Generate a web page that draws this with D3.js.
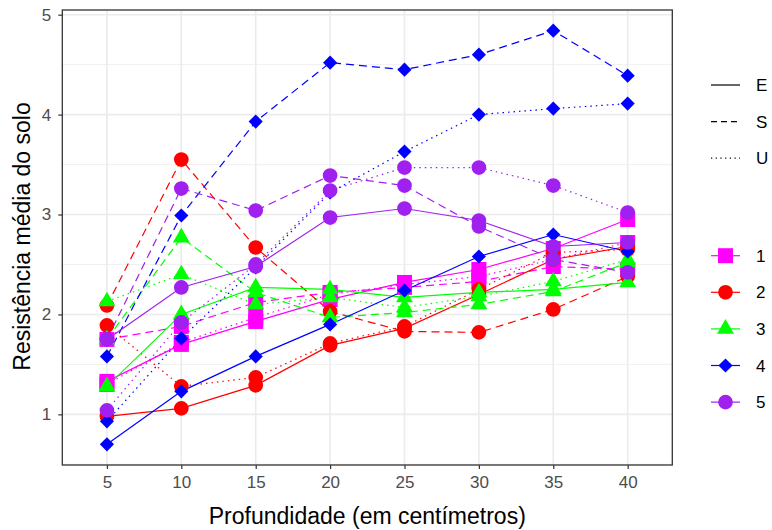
<!DOCTYPE html>
<html>
<head>
<meta charset="utf-8">
<script src="https://cdn.jsdelivr.net/npm/d3@7"></script>
<style>
  body { margin: 0; background: #fff; }
  text { font-family: "Liberation Sans", Arial, sans-serif; }
</style>
</head>
<body>
<div class="chart"></div>
<script>
// profundidade (cm)
let depths = [5, 10, 15, 20, 25, 30, 35, 40]
let groups = ["1", "2", "3", "4", "5"]
let types = ["E", "S", "U"]

// valores, um array por grupo e tipo
let g1E = [1.33, 1.70, 1.93, 2.15, 2.32, 2.45, 2.66, 2.95]
let g1S = [1.75, 1.88, 2.12, 2.22, 2.27, 2.33, 2.48, 2.45]
let g1U = [1.30, 1.72, 1.97, 2.20, 2.30, 2.38, 2.55, 2.72]

let g2E = [0.98, 1.06, 1.29, 1.69, 1.86, 2.20, 2.55, 2.68]
let g2S = [2.09, 3.55, 2.67, 2.03, 1.83, 1.82, 2.05, 2.38]
let g2U = [1.89, 1.28, 1.37, 1.71, 1.88, 2.25, 2.62, 2.65]

let g3E = [1.28, 2.00, 2.27, 2.25, 2.17, 2.22, 2.25, 2.32]
let g3S = [1.75, 2.77, 2.22, 1.97, 2.02, 2.10, 2.23, 2.52]
let g3U = [2.13, 2.40, 2.10, 2.17, 2.07, 2.18, 2.33, 2.55]

let g4E = [0.70, 1.23, 1.58, 1.90, 2.24, 2.58, 2.80, 2.63]
let g4S = [1.58, 2.99, 3.93, 4.52, 4.45, 4.60, 4.84, 4.39]
let g4U = [0.93, 1.76, 2.47, 3.22, 3.63, 4.00, 4.06, 4.11]

let g5E = [1.75, 2.27, 2.48, 2.97, 3.06, 2.94, 2.68, 2.72]
let g5S = [1.75, 3.26, 3.04, 3.39, 3.29, 2.88, 2.55, 2.42]
let g5U = [1.04, 1.92, 2.50, 3.24, 3.47, 3.47, 3.29, 3.02]

let yTicks = [1, 2, 3, 4, 5]

let values = {
    "1": { E: g1E, S: g1S, U: g1U },
    "2": { E: g2E, S: g2S, U: g2U },
    "3": { E: g3E, S: g3S, U: g3U },
    "4": { E: g4E, S: g4S, U: g4U },
    "5": { E: g5E, S: g5S, U: g5U }
}

let width = 772, height = 530
let panel = { left: 62.3, right: 672.3, top: 10, bottom: 465 }

let colors = { "1": "#FF00FF", "2": "#FF0000", "3": "#00FF00", "4": "#0000FF", "5": "#A020F0" }
let dashes = { E: null, S: "8,5", U: "1.5,4" }

let series = []
groups.forEach(g => {
    types.forEach(t => {
        series.push({ group: g, type: t, points: depths.map((d, i) => ({ depth: d, value: values[g][t][i] })) })
    })
})

let allValues = series.flatMap(s => s.points.map(p => p.value))
let [minV, maxV] = d3.extent(allValues)
let pad = (maxV - minV) * 0.05

let x = d3.scalePoint()
    .domain(depths)
    .range([panel.left, panel.right])
    .padding(0.6)
let y = d3.scaleLinear()
    .domain([minV - pad, maxV + pad])
    .range([panel.bottom, panel.top])

let svg = d3.select(".chart")
    .append("svg")
    .attr("width", width)
    .attr("height", height)

//网格
let grid = svg.append("g")
let minorTicks = d3.range(0.5, 5.5, 1).filter(v => y(v) <= panel.bottom && y(v) >= panel.top)
grid.selectAll(".minor")
    .data(minorTicks)
    .enter()
    .append("line")
    .attr("x1", panel.left).attr("x2", panel.right)
    .attr("y1", d => y(d)).attr("y2", d => y(d))
    .attr("stroke", "#F0F0F0")
    .attr("stroke-width", 1)
grid.selectAll(".major")
    .data(yTicks)
    .enter()
    .append("line")
    .attr("x1", panel.left).attr("x2", panel.right)
    .attr("y1", d => y(d)).attr("y2", d => y(d))
    .attr("stroke", "#EBEBEB")
    .attr("stroke-width", 1.6)
grid.selectAll(".vert")
    .data(depths)
    .enter()
    .append("line")
    .attr("y1", panel.top).attr("y2", panel.bottom)
    .attr("x1", d => x(d)).attr("x2", d => x(d))
    .attr("stroke", "#EBEBEB")
    .attr("stroke-width", 1.6)

//线
let line = d3.line()
    .x(d => x(d.depth))
    .y(d => y(d.value))
svg.append("g")
    .selectAll("path")
    .data(series)
    .enter()
    .append("path")
    .attr("d", d => line(d.points))
    .attr("fill", "none")
    .attr("stroke", d => colors[d.group])
    .attr("stroke-width", 1.2)
    .attr("stroke-dasharray", d => dashes[d.type])

//点 (losango = quadrado girado 45°)
let shapes = {
    "1": { sym: d3.symbol().type(d3.symbolSquare).size(225), rot: 0 },
    "2": { sym: d3.symbol().type(d3.symbolCircle).size(170), rot: 0 },
    "3": { sym: d3.symbol().type(d3.symbolTriangle).size(125), rot: 0 },
    "4": { sym: d3.symbol().type(d3.symbolSquare).size(100), rot: 45 },
    "5": { sym: d3.symbol().type(d3.symbolCircle).size(170), rot: 0 }
}
let pts = svg.append("g")
series.forEach(s => {
    let shp = shapes[s.group]
    pts.append("g")
        .selectAll("path")
        .data(s.points)
        .enter()
        .append("path")
        .attr("d", shp.sym())
        .attr("transform", d => `translate(${x(d.depth)},${y(d.value)}) rotate(${shp.rot})`)
        .attr("fill", colors[s.group])
})

// borda
svg.append("rect")
    .attr("x", panel.left).attr("y", panel.top)
    .attr("width", panel.right - panel.left)
    .attr("height", panel.bottom - panel.top)
    .attr("fill", "none")
    .attr("stroke", "#333333")
    .attr("stroke-width", 1.3)

//轴
let xAxis = svg.append("g")
    .attr("transform", `translate(0,${panel.bottom})`)
    .call(d3.axisBottom(x).tickSize(4).tickPadding(7))
let yAxis = svg.append("g")
    .attr("transform", `translate(${panel.left},0)`)
    .call(d3.axisLeft(y).tickValues(yTicks).tickFormat(d3.format("d")).tickSize(4).tickPadding(7))
;[xAxis, yAxis].forEach(a => {
    a.select(".domain").remove()
    a.selectAll(".tick line").attr("stroke", "#333333").attr("stroke-width", 1.2)
    a.selectAll(".tick text")
        .attr("fill", "#4D4D4D")
        .attr("font-size", 17)
        .attr("font-family", "Liberation Sans, Arial, sans-serif")
})

svg.append("text")
    .attr("x", (panel.left + panel.right) / 2)
    .attr("y", 524)
    .attr("text-anchor", "middle")
    .attr("font-size", 23)
    .attr("fill", "#000")
    .text("Profundidade (em centímetros)")
svg.append("text")
    .attr("transform", `translate(30,${(panel.top + panel.bottom) / 2 - 1}) rotate(-90)`)
    .attr("text-anchor", "middle")
    .attr("font-size", 23)
    .attr("fill", "#000")
    .text("Resistência média do solo")

//图例
let legendX = 711, labelX = 756
let lt = svg.append("g")
lt.selectAll("line")
    .data(types)
    .enter()
    .append("line")
    .attr("x1", legendX).attr("x2", legendX + 29)
    .attr("y1", (d, i) => 85 + 36.6 * i)
    .attr("y2", (d, i) => 85 + 36.6 * i)
    .attr("stroke", "#000")
    .attr("stroke-width", 1.2)
    .attr("stroke-dasharray", d => dashes[d] ? (d == "S" ? "6,4" : "1.2,3.5") : null)
lt.selectAll("text")
    .data(types)
    .enter()
    .append("text")
    .attr("x", labelX)
    .attr("y", (d, i) => 85 + 36.6 * i)
    .attr("dy", "0.36em")
    .attr("font-size", 17)
    .text(d => d)

let sh = svg.append("g")
groups.forEach((g, i) => {
    let cy = 255.7 + 36.6 * i
    let shp = shapes[g]
    sh.append("line")
        .attr("x1", legendX).attr("x2", legendX + 29)
        .attr("y1", cy).attr("y2", cy)
        .attr("stroke", colors[g])
        .attr("stroke-width", 1.2)
    sh.append("path")
        .attr("d", shp.sym())
        .attr("transform", `translate(${legendX + 14.5},${cy}) rotate(${shp.rot})`)
        .attr("fill", colors[g])
    sh.append("text")
        .attr("x", labelX)
        .attr("y", cy)
        .attr("dy", "0.36em")
        .attr("font-size", 17)
        .text(g)
})
</script>
</body>
</html>
